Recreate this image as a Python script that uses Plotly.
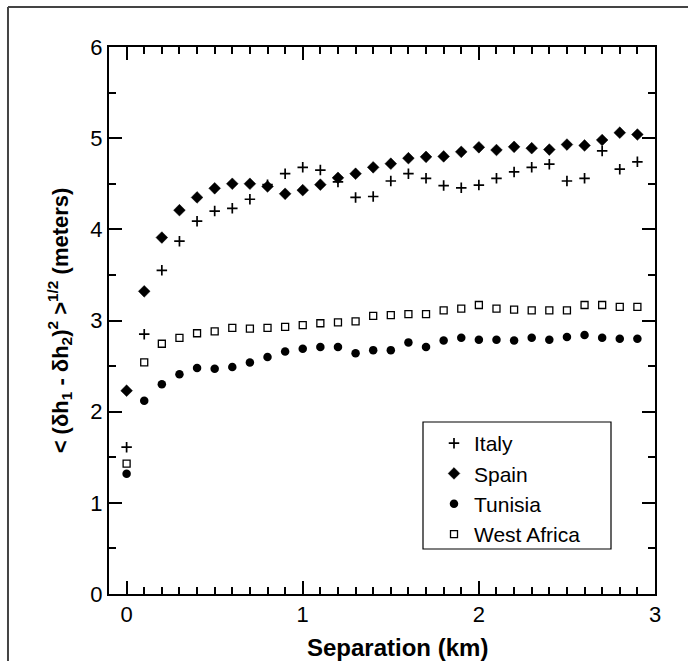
import plotly.graph_objects as go

# Separation between the two points (km)
separation = [0.0, 0.1, 0.2, 0.3, 0.4, 0.5, 0.6, 0.7, 0.8, 0.9,
              1.0, 1.1, 1.2, 1.3, 1.4, 1.5, 1.6, 1.7, 1.8, 1.9,
              2.0, 2.1, 2.2, 2.3, 2.4, 2.5, 2.6, 2.7, 2.8, 2.9]

# RMS height difference (meters) per region
italy = [1.61, 2.85, 3.55, 3.87, 4.09, 4.20, 4.23, 4.33, 4.49, 4.61,
         4.68, 4.65, 4.52, 4.35, 4.36, 4.53, 4.61, 4.56, 4.48, 4.455,
         4.485, 4.56, 4.63, 4.68, 4.715, 4.53, 4.56, 4.86, 4.66, 4.74]
spain = [2.23, 3.32, 3.91, 4.21, 4.35, 4.45, 4.50, 4.50, 4.47, 4.39,
         4.43, 4.49, 4.565, 4.61, 4.68, 4.72, 4.78, 4.795, 4.80, 4.85,
         4.90, 4.87, 4.905, 4.89, 4.875, 4.93, 4.92, 4.98, 5.06, 5.04]
tunisia = [1.32, 2.12, 2.30, 2.41, 2.48, 2.47, 2.49, 2.54, 2.60, 2.66,
           2.69, 2.71, 2.71, 2.64, 2.675, 2.675, 2.76, 2.71, 2.78, 2.81,
           2.79, 2.79, 2.78, 2.81, 2.79, 2.82, 2.84, 2.81, 2.80, 2.80]
west_africa = [1.43, 2.54, 2.745, 2.81, 2.86, 2.88, 2.92, 2.91, 2.92, 2.93,
               2.95, 2.97, 2.98, 2.99, 3.05, 3.06, 3.07, 3.07, 3.11, 3.13,
               3.17, 3.13, 3.12, 3.11, 3.11, 3.11, 3.17, 3.17, 3.15, 3.15]

x_ticks = [0, 1, 2, 3]
y_ticks = [0, 1, 2, 3, 4, 5, 6]

FONT = "Liberation Sans, Arial, Helvetica, sans-serif"

fig = go.Figure()
fig.add_trace(go.Scatter(
    x=separation, y=italy, mode="markers", name="Italy",
    marker=dict(symbol="cross-thin-open", size=7.5, color="black",
                line=dict(color="black", width=1.7)),
))
fig.add_trace(go.Scatter(
    x=separation, y=spain, mode="markers", name="Spain",
    marker=dict(symbol="diamond", size=9, color="black",
                line=dict(color="black", width=0.5)),
))
fig.add_trace(go.Scatter(
    x=separation, y=tunisia, mode="markers", name="Tunisia",
    marker=dict(symbol="circle", size=8.5, color="black",
                line=dict(width=0)),
))
fig.add_trace(go.Scatter(
    x=separation, y=west_africa, mode="markers", name="West Africa",
    marker=dict(symbol="square-open", size=7, color="black",
                line=dict(color="black", width=1.3)),
))

axis_common = dict(
    showgrid=False, zeroline=False, showline=True, linecolor="black",
    linewidth=2, mirror="allticks", ticks="inside", ticklen=13,
    tickwidth=1.5, tickcolor="black",
    tickfont=dict(family=FONT, size=22, color="black"),
)

fig.update_xaxes(
    range=[-0.1, 3.0], tickvals=x_ticks, ticktext=[str(v) for v in x_ticks],
    minor=dict(dtick=0.1, tick0=0, ticks="inside", ticklen=7,
               tickwidth=1.5, tickcolor="black"),
    **axis_common,
)
fig.update_yaxes(
    range=[0, 6], tickvals=y_ticks, ticktext=[str(v) for v in y_ticks],
    minor=dict(dtick=0.5, tick0=0, ticks="inside", ticklen=7,
               tickwidth=1.5, tickcolor="black"),
    title=dict(
        text="<b>< (δh<sub>1</sub> - δh<sub>2</sub>)<sup>2</sup> ><sup>1/2</sup> (meters)</b>",
        font=dict(family=FONT, size=22, color="black"),
        standoff=16,
    ),
    **axis_common,
)

fig.add_annotation(
    text="<b>Separation (km)</b>", xref="paper", yref="paper",
    x=0.529, y=-0.097, xanchor="center", yanchor="middle",
    showarrow=False, font=dict(family=FONT, size=24, color="black"),
)

# Page frame (top and left edges)
frame = dict(color="#444444", width=2)
fig.add_shape(type="line", xref="paper", yref="paper",
              x0=-0.185, x1=1.2, y0=1.0731, y1=1.0731, line=frame)
fig.add_shape(type="line", xref="paper", yref="paper",
              x0=-0.185, x1=-0.185, y0=-0.2, y1=1.0731, line=frame)

# Legend box outline (plot area spans x 109..655 px, y 47..594 px)
PX0, PW, PY0, PH = 109, 546, 47, 547
leg_left, leg_right, leg_top, leg_bottom = 423, 611, 422, 549
fig.add_shape(type="rect", xref="paper", yref="paper", layer="above",
              x0=(leg_left - PX0) / PW, x1=(leg_right - PX0) / PW,
              y0=1 - (leg_bottom - PY0) / PH, y1=1 - (leg_top - PY0) / PH,
              line=dict(color="black", width=1.2), fillcolor="rgba(0,0,0,0)")

fig.update_layout(
    width=688, height=661,
    margin=dict(l=PX0, r=688 - PX0 - PW, t=PY0, b=661 - PY0 - PH),
    paper_bgcolor="white", plot_bgcolor="white",
    showlegend=True,
    legend=dict(
        x=(leg_left + 1 - PX0) / PW, y=1 - (leg_top + 1 - PY0) / PH,
        xanchor="left", yanchor="top",
        bgcolor="rgba(255,255,255,0)", borderwidth=0,
        font=dict(family=FONT, size=21, color="black"),
        indentation=10,
    ),
)

fig.write_html("out.html")
